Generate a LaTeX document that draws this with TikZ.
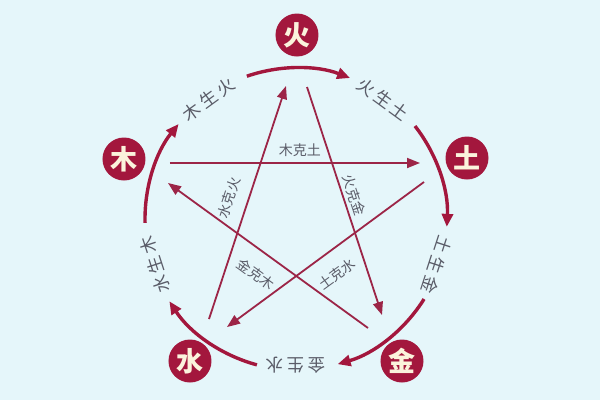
\documentclass[tikz,border=0pt]{standalone}
\usepackage{fontspec}
\newfontfamily\cjk{Noto Sans CJK SC}
\usetikzlibrary{arrows.meta}
\definecolor{bgblue}{HTML}{E5F6FA}
\definecolor{elred}{HTML}{A3173D}
\definecolor{linered}{HTML}{9C2547}
\definecolor{cream}{HTML}{FBF3DC}
\definecolor{labgray}{HTML}{5A5C68}
\newcommand{\gapch}{\hspace{3.5pt}}
\tikzset{
  elem/.style={circle, fill=elred, minimum size=43pt, inner sep=0pt, text=cream,
    font=\cjk\bfseries\fontsize{27}{27}\selectfont},
  cyclearc/.style={draw=elred, line width=3.4pt, -{Triangle[length=13pt,width=11pt]}},
  starline/.style={draw=linered, line width=1.8pt, -{Triangle[length=13pt,width=10pt]}},
  arclab/.style={text=labgray, font=\cjk\fontsize{17.5}{17.5}\selectfont, inner sep=0pt},
  starlab/.style={text=labgray, font=\cjk\fontsize{14}{14}\selectfont, inner sep=0pt},
}
\begin{document}
\begin{tikzpicture}[x=1pt,y=1pt]
\useasboundingbox (-296,-181) rectangle (304,219);
\fill[bgblue] (-296,-181) rectangle (304,219);
\coordinate (O) at (0,0);
% element nodes
\node[elem] (huo) at (1,184) {火};
\node[elem] (mu) at (-172,60) {木};
\node[elem] (tu) at (171,61) {土};
\node[elem] (shui) at (-106,-142) {水};
\node[elem] (jin) at (106,-142) {金};
% generating cycle arcs
\draw[cyclearc] ([shift={(109:151)}]O) arc[start angle=109, end angle=69, radius=151];
\draw[cyclearc] ([shift={(38:151)}]O) arc[start angle=38, end angle=-3, radius=151];
\draw[cyclearc] ([shift={(-32:151)}]O) arc[start angle=-32, end angle=-74, radius=151];
\draw[cyclearc] ([shift={(-105:151)}]O) arc[start angle=-105, end angle=-147, radius=151];
\draw[cyclearc] ([shift={(181.5:151)}]O) arc[start angle=181.5, end angle=141, radius=151];
% cycle labels
\node[arclab, rotate=-36] (l1) at (54:148) {火\gapch 生\gapch 土};
\node[arclab, rotate=-108] (l2) at (-18:148) {土\gapch 生\gapch 金};
\node[arclab, rotate=180] (l3) at (-90:146) {金\gapch 生\gapch 水};
\node[arclab, rotate=108] (l4) at (-162:148) {水\gapch 生\gapch 木};
\node[arclab, rotate=36] (l5) at (126:148) {木\gapch 生\gapch 火};
% star line end points
\coordinate (s1a) at (-126,56);  \coordinate (s1b) at (124,56);
\coordinate (s2a) at (-87,-100); \coordinate (s2b) at (-10,133);
\coordinate (s3a) at (11,132);   \coordinate (s3b) at (86,-96);
\coordinate (s4a) at (72,-109);  \coordinate (s4b) at (-128,36);
\coordinate (s5a) at (128,37);   \coordinate (s5b) at (-69,-108);
\draw[starline] (s1a) -- (s1b);
\draw[starline] (s2a) -- (s2b);
\draw[starline] (s3a) -- (s3b);
\draw[starline] (s4a) -- (s4b);
\draw[starline] (s5a) -- (s5b);
% star labels
\node[starlab] (k1) at (4,69) {木克土};
\node[starlab, rotate=72] (k2) at (-67,21) {水克火};
\node[starlab, rotate=-72] (k3) at (58,24) {火克金};
\node[starlab, rotate=-36] (k4) at (-40,-55) {金克木};
\node[starlab, rotate=36] (k5) at (41,-55) {土克水};
\end{tikzpicture}
\end{document}
